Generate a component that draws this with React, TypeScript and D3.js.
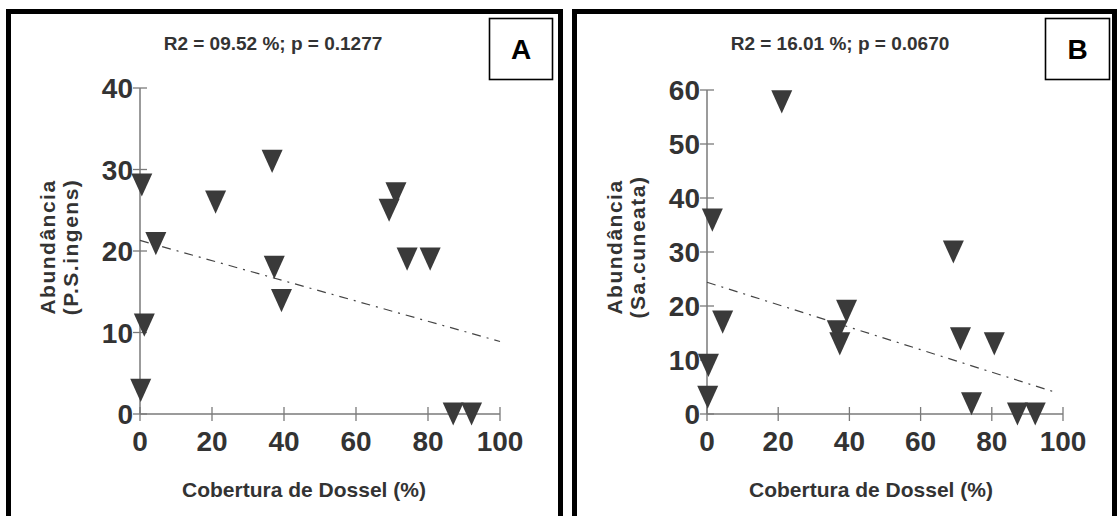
import React from "react";
import * as d3 from "d3";

// ---- data ----
const coverA = [0.5, 4.4, 1.2, 0.2, 21, 36.7, 37.3, 39.3, 69.2, 71.1, 74.2, 80.6, 87, 92.1];
const abundA = [28.1, 20.9, 10.9, 2.9, 26.0, 31.0, 18.0, 13.9, 25.0, 27.0, 19.0, 19.0, 0, 0];
const coverB = [21.0, 1.5, 4.4, 0.4, 0.2, 39.2, 36.6, 37.3, 69.2, 71.2, 80.7, 74.3, 87.2, 92.2];
const abundB = [57.8, 35.9, 17.0, 9.0, 3.1, 19.0, 15.2, 13.0, 30.0, 13.9, 13.0, 1.9, 0, 0];
const fitA = [ { x: 0, y: 21.3 }, { x: 100, y: 8.9 } ];
const fitB = [ { x: 0, y: 24.4 }, { x: 98, y: 4.0 } ];
const xTicks = [0, 20, 40, 60, 80, 100];
const yTicksA = [0, 10, 20, 30, 40];
const yTicksB = [0, 10, 20, 30, 40, 50, 60];
const titleA = "R2 = 09.52 %; p = 0.1277";
const titleB = "R2 = 16.01 %; p = 0.0670";
const yLabelA = ["Abundância", "(P.S.ingens)"];
const yLabelB = ["Abundância", "(Sa.cuneata)"];
const xLabel = "Cobertura de Dossel (%)";

const FONT = "'Liberation Sans', Arial, Helvetica, sans-serif";
const TXT = "#333333";
const MARK = "#3a3a3a";
const AXIS = "#7a7a7a";

type PanelProps = {
  xs: number[]; ys: number[]; fit: { x: number; y: number }[];
  yTicks: number[]; yMax: number; title: string; yLabel: string[]; letter: string;
  box: [number, number]; xr: [number, number]; yr: [number, number]; letterBox: [number, number];
};

function Panel(p: PanelProps) {
  const x = d3.scaleLinear().domain([0, 100]).range(p.xr);
  const y = d3.scaleLinear().domain([0, p.yMax]).range(p.yr);
  const line = d3.line<{ x: number; y: number }>().x(d => x(d.x)).y(d => y(d.y));
  const hw = 10.5, hh = 11.6;
  const tri = (cx: number, cy: number) =>
    `M${cx - hw},${cy - hh}L${cx + hw},${cy - hh}L${cx},${cy + hh}Z`;
  const ax = p.xr[0];
  const ay = p.yr[0];
  return (
    <g>
      <rect x={p.box[0]} y={11.5} width={p.box[1] - p.box[0]} height={600} fill="#fff" stroke="#000" strokeWidth={5} />
      <rect x={p.letterBox[0]} y={18.5} width={p.letterBox[1] - p.letterBox[0]} height={61} fill="none" stroke="#000" strokeWidth={1.6} />
      <text x={(p.letterBox[0] + p.letterBox[1]) / 2} y={59} textAnchor="middle" fontFamily={FONT} fontWeight="bold" fontSize={28} fill="#000">{p.letter}</text>
      <text x={ax + 133} y={50} textAnchor="middle" fontFamily={FONT} fontWeight="bold" fontSize={19} fill={TXT}>{p.title}</text>
      {/* axes */}
      <line x1={ax} x2={ax} y1={y(0)} y2={y(p.yMax)} stroke={AXIS} strokeWidth={1.5} />
      <line x1={x(0)} x2={x(100)} y1={ay} y2={ay} stroke={AXIS} strokeWidth={1.5} />
      {p.yTicks.map(t => (
        <g key={"y" + t}>
          <line x1={ax - 7} x2={ax + 7} y1={y(t)} y2={y(t)} stroke={AXIS} strokeWidth={1.3} />
          <text x={ax - 7} y={y(t) + 10} textAnchor="end" fontFamily={FONT} fontWeight="bold" fontSize={28} fill={TXT}>{t}</text>
        </g>
      ))}
      {xTicks.map(t => (
        <g key={"x" + t}>
          <line x1={x(t)} x2={x(t)} y1={ay - 7} y2={ay + 7} stroke={AXIS} strokeWidth={1.3} />
          <text x={x(t)} y={451} textAnchor="middle" fontFamily={FONT} fontWeight="bold" fontSize={28} fill={TXT}>{t}</text>
        </g>
      ))}
      <text x={ax + 164} y={497} textAnchor="middle" fontFamily={FONT} fontWeight="bold" fontSize={21} fill={TXT}>{xLabel}</text>
      <g transform={`translate(${ax - 85},247) rotate(-90)`}>
        <text x={0} y={0} textAnchor="middle" fontFamily={FONT} fontWeight="bold" fontSize={21} letterSpacing={1.5} fill={TXT}>{p.yLabel[0]}</text>
        <text x={0} y={23} textAnchor="middle" fontFamily={FONT} fontWeight="bold" fontSize={21} letterSpacing={1.5} fill={TXT}>{p.yLabel[1]}</text>
      </g>
      <path d={line(p.fit) || ""} fill="none" stroke="#444" strokeWidth={1.2} strokeDasharray="9 6 2 6" />
      {p.xs.map((v, i) => (
        <path key={i} d={tri(x(v), y(p.ys[i]))} fill={MARK} />
      ))}
    </g>
  );
}

export default function App() {
  return (
    <svg width={1117} height={516} style={{ position: "absolute", left: 0, top: 0, background: "#fff" }}>
      <rect x={0} y={0} width={1117} height={516} fill="#fff" />
      <Panel xs={coverA} ys={abundA} fit={fitA} yTicks={yTicksA} yMax={40} title={titleA} yLabel={yLabelA}
        letter="A" box={[8.5, 560.5]} xr={[140, 500]} yr={[414, 88]} letterBox={[489.5, 552.5]} />
      <Panel xs={coverB} ys={abundB} fit={fitB} yTicks={yTicksB} yMax={60} title={titleB} yLabel={yLabelB}
        letter="B" box={[574.5, 1114.5]} xr={[707, 1063]} yr={[414, 90]} letterBox={[1045.5, 1109.5]} />
    </svg>
  );
}
